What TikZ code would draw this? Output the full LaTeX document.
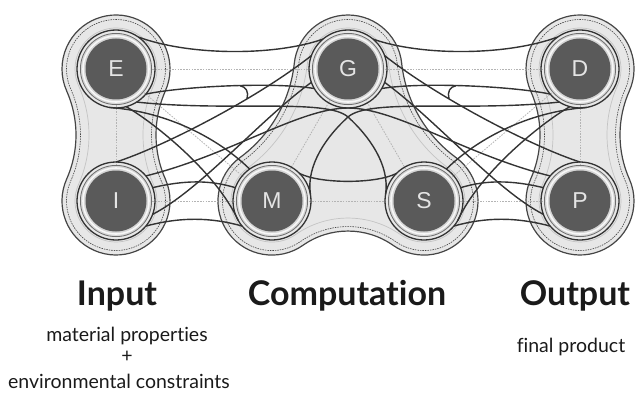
\documentclass[tikz,border=0pt]{standalone}
\usepackage{fontspec}
\setmainfont{Lato}[Ligatures=NoCommon]
\newfontfamily\hubfont{Liberation Sans}
\pgfdeclarelayer{blob}
\pgfdeclarelayer{wire}
\pgfsetlayers{blob,wire,main}
\definecolor{blobfill}{HTML}{E7E7E7}
\definecolor{rimline}{HTML}{454545}
\definecolor{innerline}{HTML}{C4C4C4}
\definecolor{wirec}{HTML}{333333}
\definecolor{centrec}{HTML}{B4B4B4}
\definecolor{ringc}{HTML}{D6D6D6}
\definecolor{ringedge}{HTML}{6E6E6E}
\definecolor{discc}{HTML}{5A5A5A}
\definecolor{letterc}{HTML}{E4E4E4}
\definecolor{textc}{HTML}{1A1A1A}

% outline of a vertical two-node group centred at x=#1 (nodes at y=69 and y=201)
% #2 = lobe radius, #3 = radius of the concave waist arcs
\newcommand\pairblob[3]{(#1,69) ++(23.95:#2pt)
  arc[start angle=23.95, end angle=-203.95, radius=#2pt]
  arc[start angle=-23.95, end angle=23.95, radius=#3pt]
  arc[start angle=-156.05, end angle=-383.95, radius=#2pt]
  arc[start angle=-203.95, end angle=-156.05, radius=#3pt] -- cycle}
% outline of the three-node group G, M, S
% #1 = lobe radius, #2 = waist radius of the slanted sides, #3 = waist radius of the bottom side
\newcommand\triblob[3]{(348,69) ++(-6.19:#1pt)
  arc[start angle=-6.19, end angle=-173.81, radius=#1pt]
  arc[start angle=6.19, end angle=53.67, radius=#2pt]
  arc[start angle=-126.33, end angle=-305.06, radius=#1pt]
  arc[start angle=-125.06, end angle=-54.94, radius=#3pt]
  arc[start angle=-234.94, end angle=-413.67, radius=#1pt]
  arc[start angle=-233.67, end angle=-186.19, radius=#2pt] -- cycle}

\tikzset{
  hub/.style={circle, inner sep=0pt, outer sep=0pt, minimum size=78pt,
    draw=wirec, line width=1.3pt, text=letterc,
    font=\hubfont\fontsize{23}{23}\selectfont,
    path picture={
      \fill[ringc] (path picture bounding box.center) circle (36pt);
      \draw[ringedge, line width=0.8pt] (path picture bounding box.center) circle (35.6pt);
      \draw[white!93!gray, line width=1.6pt] (path picture bounding box.center) circle (33pt);
      \fill[discc] (path picture bounding box.center) circle (30.5pt);
    }},
  wire/.style={draw=wirec, line width=1.4pt},
  centreline/.style={draw=centrec, line width=0.8pt, dash pattern=on 1.6pt off 1.2pt},
  rim/.style={draw=rimline, line width=1.2pt},
  rimdash/.style={draw=rimline, line width=0.6pt, dash pattern=on 1.5pt off 1pt},
  rimin/.style={draw=innerline, line width=0.7pt},
  head/.style={font=\fontsize{34}{34}\selectfont\bfseries, text=textc, inner sep=0pt},
  note/.style={font=\fontsize{19.5}{20}\selectfont, text=textc, inner sep=0pt}
}

\begin{document}
\begin{tikzpicture}[x=1pt, y=1pt]
\useasboundingbox (0,0) rectangle (636,397);
\begin{scope}[yshift=397pt, yscale=-1]

% nodes
\node[hub] (E) at (116,69) {E};
\node[hub] (I) at (116,201) {I};
\node[hub] (G) at (348,69) {G};
\node[hub] (M) at (272,201) {M};
\node[hub] (S) at (424,201) {S};
\node[hub] (D) at (580,69) {D};
\node[hub] (P) at (580,201) {P};

% group shapes and centre lines
\begin{pgfonlayer}{blob}
  \fill[blobfill] \pairblob{116}{54}{108.57};
  \fill[blobfill] \pairblob{580}{54}{108.57};
  \fill[blobfill] \triblob{54}{135.26}{78.33};
  \path[rimin] \pairblob{116}{41}{121.57};
  \path[rimin] \pairblob{580}{41}{121.57};
  \path[rimin] \triblob{41}{148.26}{91.33};
  \path[rimdash] \pairblob{116}{49.5}{113.07};
  \path[rimdash] \pairblob{580}{49.5}{113.07};
  \path[rimdash] \triblob{49.5}{139.76}{82.83};
  \path[rim] \pairblob{116}{54}{108.57};
  \path[rim] \pairblob{580}{54}{108.57};
  \path[rim] \triblob{54}{135.26}{78.33};
  \draw[centreline] (E.center) -- (I.center);
  \draw[centreline] (D.center) -- (P.center);
  \draw[centreline] (E.center) -- (G.center) -- (D.center);
  \draw[centreline] (I.center) -- (M.center) -- (S.center) -- (P.center);
  \draw[centreline] (E.center) -- (M.center) -- (G.center) -- (S.center) -- (D.center);
\end{pgfonlayer}

% connectors
\begin{pgfonlayer}{wire}
  % upper rims
  \draw[wire] (E.55) .. controls (190,56) and (275,56) .. (G.130);
  \draw[wire] (G.50) .. controls (421,56) and (506,56) .. (D.125);
  % lower rims with their small hooks
  \draw[wire] (E.-40) .. controls (185,86) and (275,82) .. (G.210);
  \draw[wire] (G.-30) .. controls (421,82) and (511,86) .. (D.-140);
  \coordinate (hookL) at (240,85.8);
  \coordinate (hookLend) at (247,98.8);
  \coordinate (hookR) at (456,85.8);
  \coordinate (hookRend) at (449,98.8);
  \draw[wire] (hookL) .. controls (246,86.5) and (249,92) .. (hookLend);
  \draw[wire] (hookR) .. controls (450,86.5) and (447,92) .. (hookRend);
  % diagonals from the lower corners up to G
  \draw[wire] (I.90) .. controls (160,148) and (255,100) .. (G.160);
  \draw[wire] (P.90) .. controls (536,148) and (441,100) .. (G.20);
  \draw[wire] (I.-20) .. controls (200,190) and (260,120) .. (G.200);
  \draw[wire] (P.-160) .. controls (496,190) and (436,120) .. (G.-20);
  % long arch passing under G
  \draw[wire] (I.40) .. controls (230,155) and (300,108) .. (G.-90)
              .. controls (396,108) and (466,155) .. (P.140);
  % diagonals from the upper corners down to M and S
  \draw[wire] (E.-100) .. controls (170,112) and (220,140) .. (M.125);
  \draw[wire] (D.-80) .. controls (526,112) and (476,140) .. (S.55);
  \draw[wire] (E.-75) .. controls (150,120) and (215,170) .. (M.-150);
  \draw[wire] (D.-105) .. controls (546,120) and (481,170) .. (S.-30);
  % crossing pair forming the pointed arch below G
  \coordinate (apex) at (348,117);
  \draw[wire] (E.-58) .. controls (230,112) and (327,98) .. (apex)
              .. controls (369,136) and (390,165) .. (S.170);
  \draw[wire] (D.-122) .. controls (466,112) and (369,98) .. (apex)
              .. controls (327,136) and (306,165) .. (M.10);
  % M to S
  \draw[wire] (M.45) .. controls (320,184) and (376,184) .. (S.135);
  % lower pairs
  \draw[wire] (I.20) .. controls (185,180) and (210,180) .. (M.160);
  \draw[wire] (S.20) .. controls (486,180) and (511,180) .. (P.160);
  \draw[wire] (I.-40) .. controls (180,217) and (210,217) .. (M.-140);
  \draw[wire] (S.-40) .. controls (486,217) and (516,217) .. (P.-140);
\end{pgfonlayer}

% labels
\node[head, anchor=base] (inp) at (117,305) {Input};
\node[head, anchor=base] (comp) at (347,305) {Computation};
\node[head, anchor=base] (outp) at (575,305) {Output};
\node[note, anchor=base] (mat) at (127,341) {material properties};
\node[note] (plus) at (127,357) {+};
\node[note, anchor=base] (env) at (119,388) {environmental constraints};
\node[note, anchor=base] (fin) at (571,352) {final product};
\end{scope}
\end{tikzpicture}
\end{document}
